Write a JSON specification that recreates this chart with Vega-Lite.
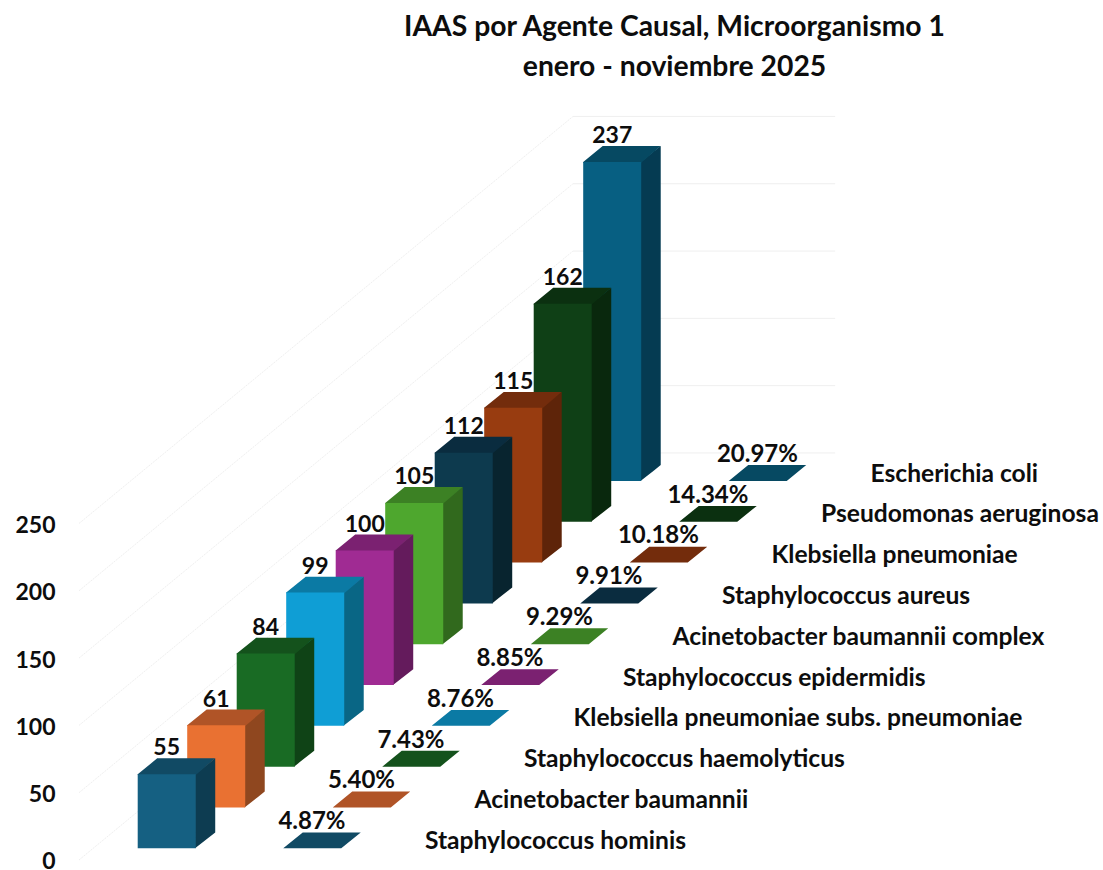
{
"$schema":"https://vega.github.io/schema/vega-lite/v6.json",
"width":1103,"height":870,"padding":0,"autosize":"none","background":"#ffffff",
"title":{"text":["IAAS por Agente Causal, Microorganismo 1","enero - noviembre 2025"],"anchor":"middle","dx":123,"offset":-104,"baseline":"alphabetic","font":"Lato","fontSize":28.3,"fontWeight":"bold","color":"#0d0d0d","lineHeight":40},
"config":{"view":{"stroke":null},"text":{"font":"Lato","fontWeight":"bold","fontSize":23,"color":"#0d0d0d"}},
"layer":[
{"data":{"values":[{"tick":0},{"tick":50},{"tick":100},{"tick":150},{"tick":200},{"tick":250}]},
 "transform":[{"calculate":"datum.tick+302.4","as":"tickBack"}],
 "layer":[
 {"mark":{"type":"rule","color":"#efefef","strokeWidth":1,"strokeDash":[2,1]},
  "encoding":{"x":{"datum":-1.186,"type":"quantitative","scale":{"domain":[-2.782,19.501],"nice":false,"zero":false},"axis":null},"x2":{"datum":8.794},
   "y":{"field":"tick","type":"quantitative","scale":{"domain":[-7.43,638.9],"nice":false,"zero":false},"title":null,"axis":{"values":[0,50,100,150,200,250],"domain":false,"ticks":false,"grid":false,"title":null,"offset":-55,"labelPadding":0,"labelOffset":2,"labelBound":false,"labelFlush":false,"labelFont":"Lato","labelFontSize":23,"labelFontWeight":"bold","labelColor":"#0d0d0d","labelOverlap":false}},"y2":{"field":"tickBack"}}},
 {"mark":{"type":"rule","color":"#efefef","strokeWidth":1},
  "encoding":{"x":{"datum":8.794,"type":"quantitative"},"x2":{"datum":14.09},
   "y":{"field":"tickBack","type":"quantitative"},"y2":{"field":"tickBack"}}}
 ]},
{"data":{"values":[
 {"name":"Escherichia coli","n":237,"pct":0.2097},
 {"name":"Pseudomonas aeruginosa","n":162,"pct":0.1434},
 {"name":"Klebsiella pneumoniae","n":115,"pct":0.1018},
 {"name":"Staphylococcus aureus","n":112,"pct":0.0991},
 {"name":"Acinetobacter baumannii complex","n":105,"pct":0.0929},
 {"name":"Staphylococcus epidermidis","n":100,"pct":0.0885},
 {"name":"Klebsiella pneumoniae subs. pneumoniae","n":99,"pct":0.0876},
 {"name":"Staphylococcus haemolyticus","n":84,"pct":0.0743},
 {"name":"Acinetobacter baumannii","n":61,"pct":0.054},
 {"name":"Staphylococcus hominis","n":55,"pct":0.0487}
 ]},
 "transform":[
  {"window":[{"op":"row_number","as":"rn"}],"sort":[{"field":"n","order":"ascending"}]},
  {"calculate":"datum.rn-1","as":"r"},
  {"calculate":"8.7+30.32*datum.r","as":"base"},
  {"calculate":"datum.base+datum.n","as":"top"}
 ],
 "layer":[
 {"transform":[
   {"calculate":"['side','top','front','tile']","as":"faces"},
   {"flatten":["faces"],"as":["face"]},
   {"calculate":"[0,1,2,3]","as":"verts"},
   {"flatten":["verts"],"as":["v"]},
   {"calculate":"datum.r+'-'+(datum.face=='tile'?'top':datum.face)","as":"key"},
   {"calculate":"datum.face=='tile'?datum.base:datum.top","as":"floor"},
   {"calculate":"datum.r+(datum.face=='tile'?2.94:0)","as":"xo"},
   {"calculate":"datum.face=='front'?datum.r+1.172*datum.v/3:datum.face=='side'?datum.r+1.158+0.408*datum.v/3:datum.xo+[0,0.394,1.172,1.566][datum.v]","as":"px"},
   {"calculate":"datum.face=='front'?datum.top:datum.face=='side'?datum.top+11.8*datum.v/3:datum.floor+(datum.v==0?0:11.8)","as":"py"},
   {"calculate":"datum.face=='front'?datum.base:datum.face=='side'?datum.base+11.8*datum.v/3:datum.face=='top'&&datum.v<3?datum.floor-0.5:datum.floor+(datum.v==3?11.8:0)","as":"py2"}
  ],
  "mark":{"type":"area","line":false,"interpolate":"linear"},
  "encoding":{
   "x":{"field":"px","type":"quantitative"},
   "y":{"field":"py","type":"quantitative","stack":false},
   "y2":{"field":"py2"},
   "color":{"field":"key","type":"nominal","legend":null,"sort":null,"scale":{
    "domain":["0-front","0-side","0-top","1-front","1-side","1-top","2-front","2-side","2-top","3-front","3-side","3-top","4-front","4-side","4-top","5-front","5-side","5-top","6-front","6-side","6-top","7-front","7-side","7-top","8-front","8-side","8-top","9-front","9-side","9-top"],
    "range":["#156082","#0d3c51","#114a64","#E97132","#8f471f","#b05427","#196B24","#0f4316","#14521c","#0F9ED5","#096685","#0b7aa4","#A02B93","#641b5c","#7b2171","#4EA72E","#31691d","#3c8124","#0D3A4E","#08242f","#0a2c3f","#983C10","#5e2409","#732c0c","#0F4016","#09280d","#0b3010","#075f82","#053b52","#064962"]}}
  }},
 {"mark":{"type":"text","align":"center","baseline":"middle","fontSize":23},
  "transform":[{"calculate":"datum.r+0.586","as":"lx"},{"calculate":"datum.top+19.2","as":"ly"}],
  "encoding":{"x":{"field":"lx","type":"quantitative"},"y":{"field":"ly","type":"quantitative"},"text":{"field":"n","type":"quantitative"}}},
 {"mark":{"type":"text","align":"center","baseline":"middle","fontSize":24},
  "transform":[{"calculate":"datum.r+3.52","as":"lx"},{"calculate":"datum.base+19.4","as":"ly"}],
  "encoding":{"x":{"field":"lx","type":"quantitative"},"y":{"field":"ly","type":"quantitative"},"text":{"field":"pct","type":"quantitative","format":".2%"}}},
 {"mark":{"type":"text","align":"left","baseline":"middle","fontSize":24.6},
  "transform":[{"calculate":"datum.r+5.804","as":"lx"},{"calculate":"datum.base+4.8","as":"ly"}],
  "encoding":{"x":{"field":"lx","type":"quantitative"},"y":{"field":"ly","type":"quantitative"},"text":{"field":"name","type":"nominal"}}}
 ]}
]}
